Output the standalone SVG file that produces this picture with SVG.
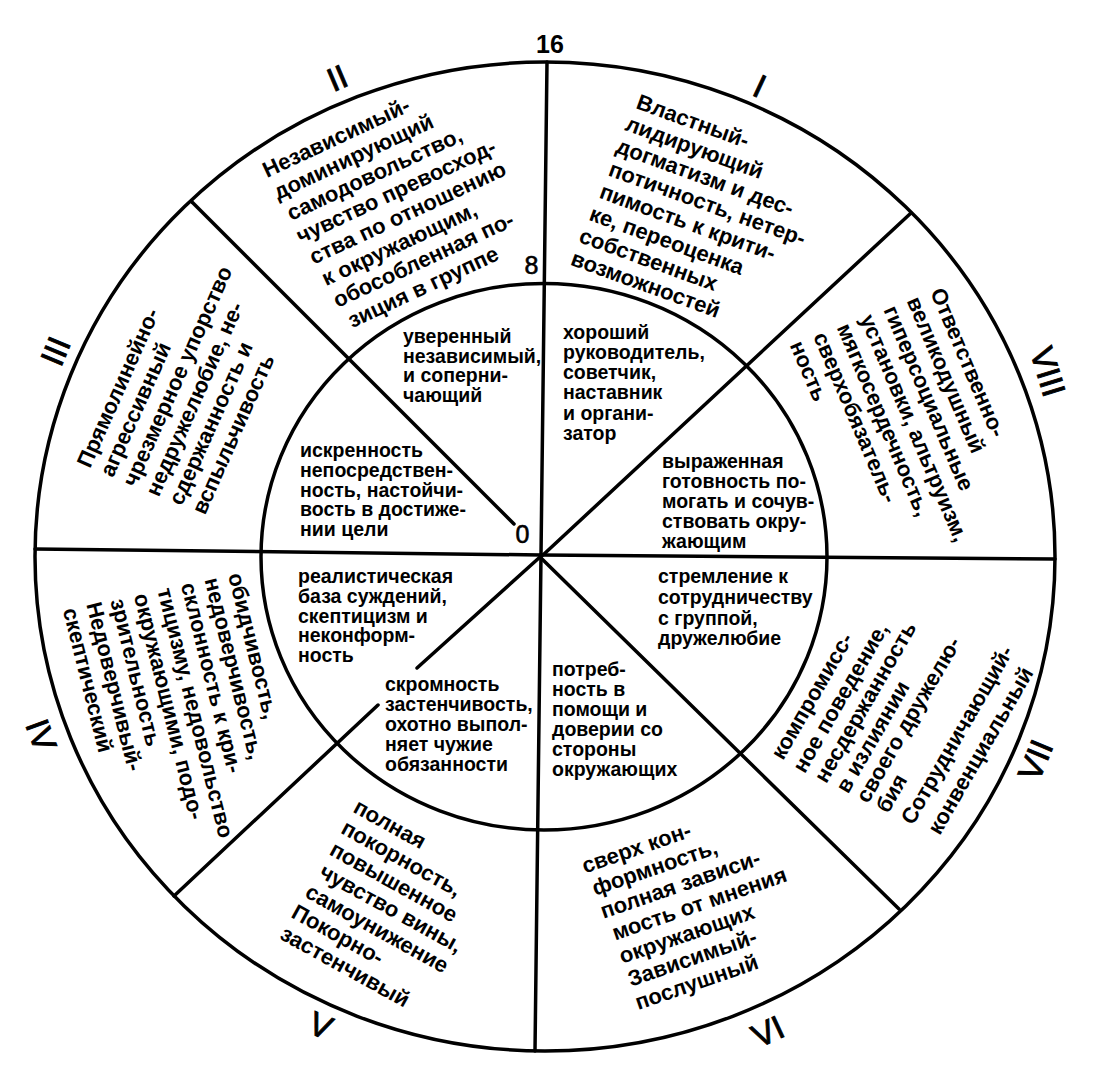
<svg xmlns="http://www.w3.org/2000/svg" width="1101" height="1078" viewBox="0 0 1101 1078">
<style>
.ln{stroke:#000;stroke-width:3.5;fill:none;stroke-linecap:round}
text{font-family:"Liberation Sans",Arial,sans-serif;fill:#000}
.ot{font-weight:bold;font-size:22px}
.it{font-weight:bold;font-size:19.5px}
.rn{font-size:33px;font-weight:normal;text-anchor:middle;stroke:#000;stroke-width:0.9}
.sc{font-size:25px;text-anchor:middle}
</style>
<rect width="1101" height="1078" fill="#fff"/>
<g id="connectors">
<ellipse class="ln" cx="545" cy="556.5" rx="510" ry="494.5"/>
<ellipse class="ln" cx="544" cy="556.7" rx="283" ry="273.3"/>
<line class="ln" x1="541" y1="555" x2="547" y2="62"/>
<line class="ln" x1="541" y1="555" x2="535" y2="1051"/>
<line class="ln" x1="541" y1="555" x2="35" y2="549"/>
<line class="ln" x1="541" y1="555" x2="1055" y2="559"/>
<line class="ln" x1="192" y1="202" x2="514" y2="524"/>
<line class="ln" x1="543" y1="555" x2="911" y2="213"/>
<line class="ln" x1="540" y1="557" x2="417" y2="668"/>
<line class="ln" x1="378" y1="705" x2="174" y2="896"/>
<line class="ln" x1="541" y1="558" x2="899" y2="909"/>
</g>
<g id="scale">
<text class="sc" x="550" y="53" font-weight="bold" font-size="29">16</text>
<text class="sc" x="531.5" y="273.5" stroke="#000" stroke-width="0.6">8</text>
<text class="sc" x="522.5" y="543" stroke="#000" stroke-width="0.6">0</text>
</g>
<g id="numerals">
<text class="rn" transform="translate(760,85.5) rotate(25)" y="12">I</text>
<text class="rn" transform="translate(337,77.5) rotate(-23)" y="12">II</text>
<text class="rn" transform="translate(55,351) rotate(-67)" y="12">III</text>
<text class="rn" transform="translate(41.7,735) rotate(70)" y="12">IV</text>
<text class="rn" transform="translate(321,1025) rotate(22)" y="12">V</text>
<text class="rn" transform="translate(767.5,1031) rotate(-25)" y="12">VI</text>
<text class="rn" transform="translate(1035,760) rotate(-67)" y="12">VII</text>
<text class="rn" transform="translate(1048.5,371.5) rotate(73)" y="12">VIII</text>
</g>
<g id="sector-I" transform="translate(635,108) rotate(20)">
<text class="ot" x="0" y="0">Властный-</text>
<text class="ot" x="-3" y="24.2">лидирующий</text>
<text class="ot" x="-4" y="48.4">догматизм и дес-</text>
<text class="ot" x="-3" y="72.6">потичность, нетер-</text>
<text class="ot" x="-4" y="96.8">пимость к крити-</text>
<text class="ot" x="-6" y="121">ке, переоценка</text>
<text class="ot" x="-8" y="145.2">собственных</text>
<text class="ot" x="-8" y="169.4">возможностей</text>
</g>
<g id="sector-II" transform="translate(267,178) rotate(-25)">
<text class="ot" x="0" y="0">Независимый-</text>
<text class="ot" x="0.7" y="24.6">доминирующий</text>
<text class="ot" x="3.7" y="49.2">самодовольство,</text>
<text class="ot" x="2.8" y="73.8">чувство превосход-</text>
<text class="ot" x="5.7" y="98.4">ства по отношению</text>
<text class="ot" x="7.7" y="123">к окружающим,</text>
<text class="ot" x="9" y="147.6">обособленная по-</text>
<text class="ot" x="13.7" y="172.2">зиция в группе</text>
</g>
<g id="sector-III" transform="translate(90,469) rotate(-66)">
<text class="ot" x="0" y="0">Прямолинейно-</text>
<text class="ot" x="1" y="24.8">агрессивный</text>
<text class="ot" x="1.4" y="49.6">чрезмерное упорство</text>
<text class="ot" x="1.7" y="74.4">недружелюбие, не-</text>
<text class="ot" x="3" y="99.2">сдержанность и</text>
<text class="ot" x="4" y="124">вспыльчивость</text>
</g>
<g id="sector-IV" transform="translate(228,575) rotate(76)">
<text class="ot" x="0" y="0">обидчивость,</text>
<text class="ot" x="-1" y="24.1">недоверчивость,</text>
<text class="ot" x="-2" y="48.2">склонность к кри-</text>
<text class="ot" x="-2.5" y="72.3">тицизму, недовольство</text>
<text class="ot" x="-3" y="96.4">окружающими, подо-</text>
<text class="ot" x="-3.5" y="120.5">зрительность</text>
<text class="ot" x="-6" y="144.6">Недоверчивый-</text>
<text class="ot" x="-6" y="168.7">скептический</text>
</g>
<g id="sector-V" transform="translate(352,811.5) rotate(29)">
<text class="ot" x="0" y="0">полная</text>
<text class="ot" x="-0.5" y="24.4">покорность,</text>
<text class="ot" x="-0.2" y="48.8">повышенное</text>
<text class="ot" x="1.6" y="73.2">чувство вины,</text>
<text class="ot" x="-1.2" y="97.6">самоунижение</text>
<text class="ot" x="-3.2" y="122">Покорно-</text>
<text class="ot" x="-2.7" y="146.4">застенчивый</text>
</g>
<g id="sector-VI" transform="translate(585,873.5) rotate(-19)">
<text class="ot" x="0" y="0">сверх кон-</text>
<text class="ot" x="2.4" y="24.4">формность,</text>
<text class="ot" x="2.7" y="48.8">полная зависи-</text>
<text class="ot" x="6.8" y="73.2">мость от мнения</text>
<text class="ot" x="5.9" y="97.6">окружающих</text>
<text class="ot" x="6.7" y="122">Зависимый-</text>
<text class="ot" x="5.9" y="146.4">послушный</text>
</g>
<g id="sector-VII" transform="translate(783,761) rotate(-60)">
<text class="ot" x="0" y="0">компромисс-</text>
<text class="ot" x="-0.7" y="25.4">ное поведение,</text>
<text class="ot" x="1.5" y="49.2">несдержанность</text>
<text class="ot" x="3.6" y="73">в излиянии</text>
<text class="ot" x="5" y="95.3">своего дружелю-</text>
<text class="ot" x="6.3" y="117.6">бия</text>
<text class="ot" x="8.7" y="145">Сотрудничающий-</text>
<text class="ot" x="13.4" y="173.2">конвенциальный</text>
</g>
<g id="sector-VIII" transform="translate(930,292) rotate(67)">
<text class="ot" x="0" y="0">Ответственно-</text>
<text class="ot" x="-1" y="25">великодушный</text>
<text class="ot" x="-2" y="50">гиперсоциальные</text>
<text class="ot" x="-3" y="75">установки, альтруизм,</text>
<text class="ot" x="-4" y="100">мягкосердечность,</text>
<text class="ot" x="-5" y="125">сверхобязатель-</text>
<text class="ot" x="-6" y="150">ность</text>
</g>
<g id="inner-I">
<text class="it" x="563" y="338.5">хороший</text>
<text class="it" x="563" y="358.8">руководитель,</text>
<text class="it" x="563" y="379.1">советчик,</text>
<text class="it" x="563" y="399.4">наставник</text>
<text class="it" x="563" y="419.7">и органи-</text>
<text class="it" x="563" y="440">затор</text>
</g>
<g id="inner-II">
<text class="it" x="403" y="343">уверенный</text>
<text class="it" x="403" y="362.7">независимый,</text>
<text class="it" x="403" y="382.4">и соперни-</text>
<text class="it" x="403" y="402.1">чающий</text>
</g>
<g id="inner-III">
<text class="it" x="300" y="457">искренность</text>
<text class="it" x="300" y="476.8">непосредствен-</text>
<text class="it" x="300" y="496.6">ность, настойчи-</text>
<text class="it" x="300" y="516.4">вость в достиже-</text>
<text class="it" x="300" y="536.2">нии цели</text>
</g>
<g id="inner-IV">
<text class="it" x="298" y="583.3">реалистическая</text>
<text class="it" x="298" y="603">база суждений,</text>
<text class="it" x="298" y="622.7">скептицизм и</text>
<text class="it" x="298" y="642.4">неконформ-</text>
<text class="it" x="298" y="662.1">ность</text>
</g>
<g id="inner-V">
<text class="it" x="385" y="690.7">скромность</text>
<text class="it" x="385" y="710.7">застенчивость,</text>
<text class="it" x="385" y="730.7">охотно выпол-</text>
<text class="it" x="385" y="750.7">няет чужие</text>
<text class="it" x="385" y="770.7">обязанности</text>
</g>
<g id="inner-VI">
<text class="it" x="552" y="675.7">потреб-</text>
<text class="it" x="552" y="695.7">ность в</text>
<text class="it" x="552" y="715.7">помощи и</text>
<text class="it" x="552" y="735.7">доверии со</text>
<text class="it" x="552" y="755.7">стороны</text>
<text class="it" x="552" y="775.7">окружающих</text>
</g>
<g id="inner-VII">
<text class="it" x="658" y="583.3">стремление к</text>
<text class="it" x="658" y="603.9">сотрудничеству</text>
<text class="it" x="658" y="624.5">с группой,</text>
<text class="it" x="658" y="645.1">дружелюбие</text>
</g>
<g id="inner-VIII">
<text class="it" x="662" y="468.3">выраженная</text>
<text class="it" x="662" y="488.3">готовность по-</text>
<text class="it" x="662" y="508.3">могать и сочув-</text>
<text class="it" x="662" y="528.3">ствовать окру-</text>
<text class="it" x="662" y="548.3">жающим</text>
</g>
</svg>
